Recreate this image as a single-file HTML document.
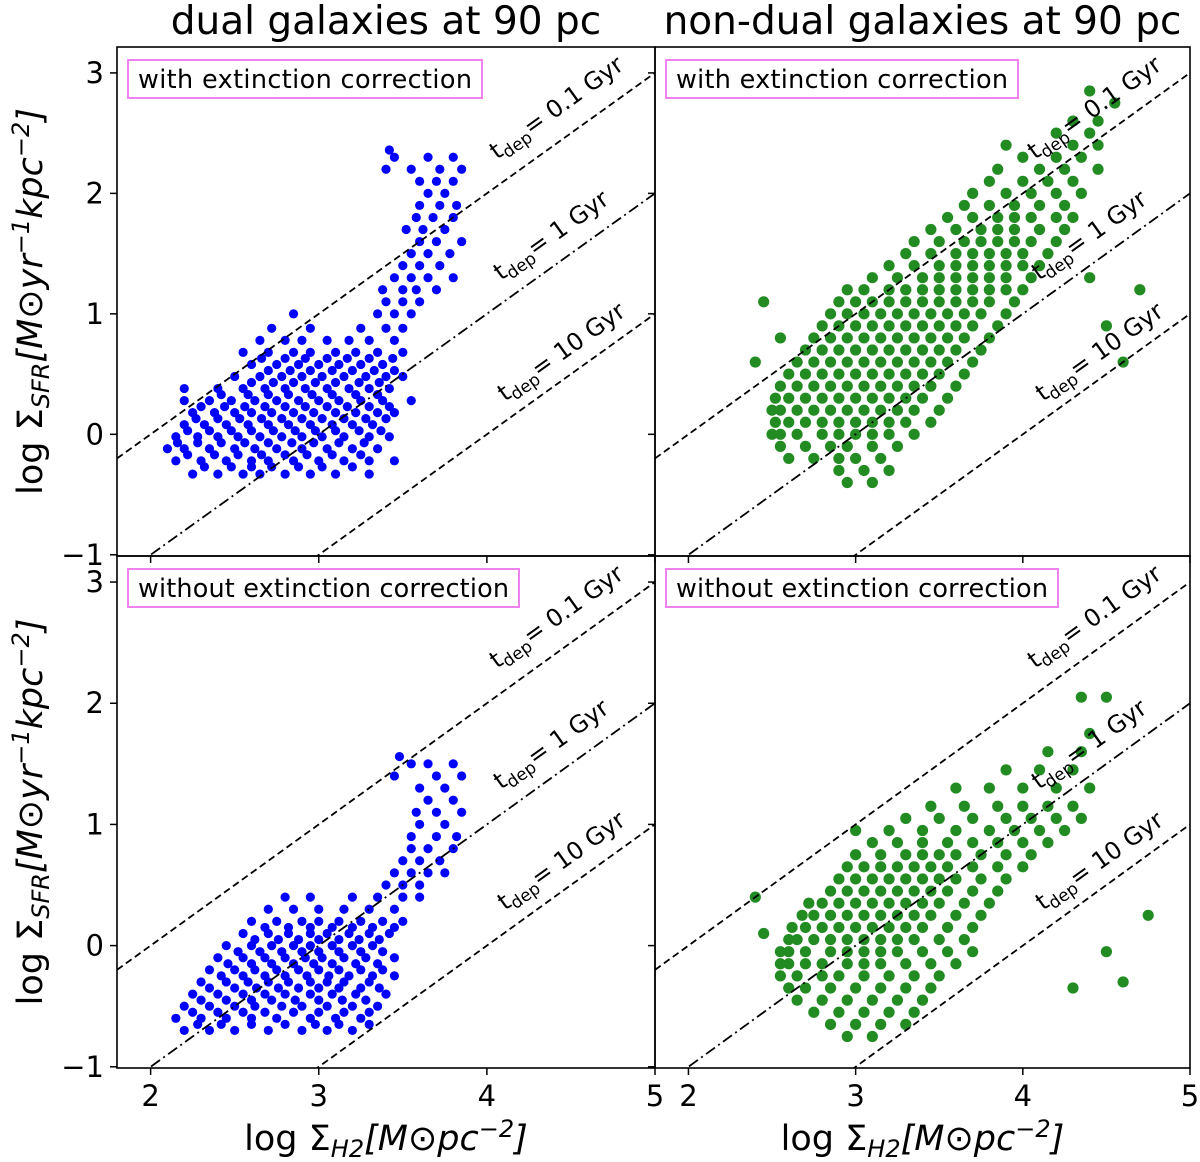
<!DOCTYPE html>
<html><head><meta charset="utf-8"><style>
html,body{margin:0;padding:0;background:#fff}
svg{display:block;font-family:"DejaVu Sans","Liberation Sans",sans-serif}
</style></head><body>
<svg id="chart" width="1200" height="1162" viewBox="0 0 1200 1162" xmlns="http://www.w3.org/2000/svg">
<g id="layer"></g>
</svg>
<script>
// data rows: [y, [x values...]]
const dualExtRows = [
[-0.33,[2.25,2.4,2.55,2.65,2.8,2.95,3.1,3.3]],
[-0.27,[2.32,2.48,2.6,2.72,2.88,3.02,3.2]],
[-0.22,[2.15,2.3,2.45,2.6,2.7,2.85,3.0,3.15,3.3,3.45]],
[-0.17,[2.22,2.38,2.52,2.66,2.8,2.93,3.08,3.25]],
[-0.12,[2.1,2.2,2.35,2.5,2.62,2.75,2.9,3.05,3.2,3.35]],
[-0.07,[2.16,2.28,2.42,2.56,2.7,2.84,2.97,3.12,3.27]],
[-0.02,[2.15,2.28,2.4,2.52,2.65,2.78,2.9,3.02,3.15,3.3,3.42]],
[0.03,[2.22,2.35,2.48,2.6,2.73,2.86,2.98,3.1,3.24,3.37]],
[0.08,[2.2,2.32,2.45,2.58,2.7,2.82,2.95,3.08,3.2,3.32]],
[0.13,[2.27,2.4,2.53,2.66,2.78,2.9,3.02,3.15,3.28,3.4]],
[0.18,[2.25,2.38,2.5,2.6,2.72,2.85,2.97,3.1,3.22,3.35,3.45]],
[0.23,[2.3,2.44,2.56,2.68,2.8,2.92,3.05,3.17,3.3,3.42]],
[0.28,[2.2,2.35,2.48,2.62,2.75,2.88,3.0,3.12,3.25,3.38,3.55]],
[0.33,[2.42,2.58,2.7,2.82,2.96,3.08,3.22,3.35]],
[0.38,[2.2,2.4,2.55,2.68,2.8,2.92,3.05,3.18,3.3,3.42]],
[0.43,[2.6,2.73,2.85,2.98,3.1,3.24,3.36]],
[0.48,[2.5,2.65,2.78,2.9,3.02,3.15,3.28,3.4,3.5]],
[0.53,[2.7,2.83,2.95,3.08,3.2,3.33,3.45]],
[0.58,[2.6,2.75,2.88,3.0,3.12,3.25,3.38]],
[0.63,[2.66,2.8,2.92,3.05,3.17,3.3,3.44]],
[0.68,[2.55,2.7,2.85,2.95,3.1,3.22,3.35,3.5]],
[0.78,[2.65,2.8,2.9,3.05,3.18,3.3,3.45]],
[0.88,[2.72,2.95,3.25,3.4,3.5]],
[1.0,[2.85,3.35,3.45,3.55]],
[1.1,[3.4,3.5,3.6]],
[1.2,[3.38,3.5,3.58,3.7]],
[1.3,[3.45,3.55,3.65,3.8]],
[1.4,[3.5,3.6,3.72]],
[1.5,[3.55,3.65,3.78]],
[1.6,[3.6,3.7,3.85]],
[1.7,[3.52,3.62,3.75]],
[1.8,[3.58,3.68,3.8]],
[1.9,[3.6,3.72,3.82]],
[2.0,[3.65,3.75]],
[2.1,[3.6,3.7,3.8]],
[2.2,[3.4,3.55,3.72,3.85]],
[2.3,[3.45,3.65,3.8]],
[2.36,[3.42]]
];
const dualNoExtRows = [
[-0.7,[2.2,2.35,2.5,2.7,2.9,3.05,3.2]],
[-0.65,[2.28,2.42,2.6,2.8,2.98,3.12,3.3]],
[-0.6,[2.15,2.3,2.45,2.6,2.75,2.95,3.1,3.25]],
[-0.55,[2.25,2.4,2.55,2.68,2.85,3.0,3.15,3.3]],
[-0.5,[2.2,2.35,2.5,2.62,2.78,2.9,3.05,3.2,3.35]],
[-0.45,[2.3,2.45,2.6,2.72,2.86,3.0,3.14,3.28]],
[-0.4,[2.25,2.4,2.55,2.68,2.8,2.95,3.08,3.22,3.4]],
[-0.35,[2.35,2.5,2.63,2.76,2.88,3.0,3.12,3.25,3.36]],
[-0.3,[2.3,2.45,2.58,2.7,2.82,2.95,3.05,3.15,3.3]],
[-0.25,[2.42,2.55,2.68,2.8,2.93,3.06,3.18,3.32,3.45]],
[-0.2,[2.35,2.5,2.62,2.75,2.88,3.0,3.12,3.25,3.38]],
[-0.15,[2.46,2.6,2.72,2.85,2.97,3.08,3.22,3.35]],
[-0.1,[2.4,2.55,2.68,2.8,2.92,3.02,3.15,3.28,3.45]],
[-0.05,[2.52,2.65,2.78,2.9,3.0,3.12,3.25,3.38]],
[0.0,[2.45,2.6,2.72,2.85,2.95,3.08,3.2,3.32]],
[0.05,[2.62,2.76,2.88,3.0,3.12,3.24,3.36]],
[0.1,[2.55,2.7,2.82,2.95,3.05,3.18,3.3,3.42]],
[0.15,[2.68,2.82,2.95,3.08,3.2,3.32,3.45]],
[0.2,[2.6,2.75,2.9,3.0,3.12,3.25,3.38,3.5]],
[0.3,[2.7,2.85,3.0,3.15,3.3,3.45]],
[0.4,[2.8,2.95,3.2,3.35,3.5,3.6]],
[0.5,[3.4,3.5,3.6]],
[0.6,[3.45,3.55,3.65,3.75]],
[0.7,[3.5,3.6,3.72]],
[0.8,[3.55,3.65,3.8]],
[0.9,[3.55,3.7,3.82]],
[1.0,[3.6,3.75]],
[1.1,[3.58,3.7,3.85]],
[1.2,[3.65,3.8]],
[1.3,[3.6,3.75]],
[1.4,[3.45,3.7,3.85]],
[1.5,[3.55,3.65,3.8]],
[1.56,[3.48]]
];
const nonDualExtRows = [
[-0.4,[2.95,3.1]],
[-0.3,[2.9,3.05,3.2]],
[-0.2,[2.6,2.75,2.9,3.0,3.15]],
[-0.1,[2.55,2.7,2.85,2.95,3.1,3.25]],
[0.0,[2.5,2.55,2.65,2.8,2.9,3.0,3.1,3.2,3.35]],
[0.1,[2.52,2.6,2.7,2.8,2.9,3.0,3.1,3.2,3.3,3.45]],
[0.2,[2.5,2.55,2.65,2.75,2.85,2.95,3.05,3.15,3.25,3.35,3.5]],
[0.3,[2.52,2.6,2.7,2.8,2.9,3.0,3.1,3.2,3.3,3.4,3.55]],
[0.4,[2.55,2.65,2.75,2.85,2.95,3.05,3.15,3.25,3.35,3.45,3.6]],
[0.5,[2.6,2.7,2.8,2.9,3.0,3.1,3.2,3.3,3.4,3.5,3.65]],
[0.6,[2.65,2.75,2.85,2.95,3.05,3.15,3.25,3.35,3.45,3.55,3.7]],
[0.7,[2.7,2.8,2.9,3.0,3.1,3.2,3.3,3.4,3.5,3.6,3.75]],
[0.8,[2.75,2.85,2.95,3.05,3.15,3.25,3.35,3.45,3.55,3.65,3.8]],
[0.9,[2.8,2.9,3.0,3.1,3.2,3.3,3.4,3.5,3.6,3.7,3.85]],
[1.0,[2.85,2.95,3.05,3.15,3.25,3.35,3.45,3.55,3.65,3.75,3.9]],
[1.1,[2.9,3.0,3.1,3.2,3.3,3.4,3.5,3.6,3.7,3.8,3.95]],
[1.2,[2.95,3.05,3.2,3.3,3.4,3.5,3.6,3.7,3.8,3.9,4.0]],
[1.3,[3.1,3.25,3.4,3.5,3.6,3.7,3.8,3.9,4.05]],
[1.4,[3.2,3.35,3.5,3.6,3.7,3.8,3.9,4.0,4.1]],
[1.5,[3.3,3.45,3.6,3.7,3.8,3.9,4.0,4.15]],
[1.6,[3.35,3.5,3.65,3.75,3.85,3.95,4.05,4.2]],
[1.7,[3.45,3.6,3.75,3.85,3.95,4.1,4.25]],
[1.8,[3.55,3.7,3.85,3.95,4.05,4.2,4.3]],
[1.9,[3.65,3.8,3.95,4.1,4.25]],
[2.0,[3.7,3.9,4.05,4.2,4.35]],
[2.1,[3.8,4.0,4.15,4.3]],
[2.2,[3.85,4.1,4.25,4.45]],
[2.3,[4.0,4.2,4.35]],
[2.4,[3.9,4.3,4.45]],
[2.5,[4.2,4.4]],
[2.6,[4.3,4.45]],
[2.75,[4.55]],
[2.85,[4.4]],
[1.1,[2.45]],[0.8,[2.55]],[1.2,[4.7]],[0.9,[4.5]],[0.6,[4.6]],[1.3,[4.4]],[0.6,[2.4]]
];
const nonDualNoExtRows = [
[-0.75,[2.95,3.1]],
[-0.65,[2.85,3.0,3.15,3.3]],
[-0.55,[2.75,2.9,3.05,3.2,3.35]],
[-0.45,[2.65,2.8,2.95,3.1,3.25,3.4]],
[-0.35,[2.6,2.7,2.85,3.0,3.15,3.3,3.45]],
[-0.25,[2.55,2.65,2.8,2.9,3.05,3.2,3.35,3.5]],
[-0.15,[2.55,2.6,2.7,2.8,2.95,3.05,3.15,3.3,3.45,3.6]],
[-0.05,[2.55,2.6,2.7,2.85,2.95,3.05,3.15,3.25,3.4,3.55,3.7]],
[0.05,[2.6,2.65,2.75,2.85,2.95,3.05,3.15,3.25,3.35,3.5,3.65]],
[0.15,[2.62,2.7,2.8,2.9,3.0,3.1,3.2,3.3,3.4,3.55,3.7]],
[0.25,[2.68,2.75,2.85,2.95,3.05,3.15,3.25,3.35,3.45,3.6,3.75]],
[0.35,[2.72,2.8,2.9,3.0,3.1,3.2,3.3,3.4,3.5,3.65,3.8]],
[0.45,[2.85,2.95,3.05,3.15,3.25,3.35,3.45,3.55,3.7,3.85]],
[0.55,[2.9,3.0,3.1,3.2,3.3,3.4,3.5,3.6,3.75,3.9]],
[0.65,[2.95,3.05,3.15,3.25,3.35,3.45,3.55,3.7,3.85,4.0]],
[0.75,[3.0,3.15,3.3,3.4,3.5,3.6,3.75,3.9,4.05]],
[0.85,[3.1,3.25,3.4,3.55,3.7,3.85,4.0,4.15]],
[0.95,[3.0,3.2,3.4,3.6,3.8,3.95,4.1,4.25]],
[1.05,[3.3,3.5,3.7,3.9,4.05,4.2,4.35]],
[1.15,[3.45,3.65,3.85,4.0,4.15,4.3]],
[1.3,[3.6,3.8,4.0,4.2,4.4]],
[1.45,[3.9,4.1,4.3]],
[1.6,[4.15,4.35]],
[1.75,[4.4]],
[2.05,[4.35,4.5]],
[0.25,[4.75]],[-0.05,[4.5]],[-0.3,[4.6]],[-0.35,[4.3]],[0.4,[2.4]],[0.1,[2.45]]
];
const xTicks = [2,3,4,5];
const yTicks = [-1,0,1,2,3];
const tdepLogYr = [8,9,10];
const tdepLabels = ["0.1","1","10"];

const NS="http://www.w3.org/2000/svg";
const layer=document.getElementById('layer');
function mk(tag,attrs,parent){const e=document.createElementNS(NS,tag);for(const k in attrs)e.setAttribute(k,attrs[k]);(parent||layer).appendChild(e);return e;}

const panels=[
 {x0:117,x1:655,y0:47,y1:556,rows:dualExtRows,color:"#0000ff",r:4.6,legend:"with extinction correction",lw:354,name:"dual-extinction-corrected"},
 {x0:655,x1:1190,y0:47,y1:556,rows:nonDualExtRows,color:"#228b22",r:5.6,legend:"with extinction correction",lw:352,name:"non-dual-extinction-corrected"},
 {x0:117,x1:655,y0:556,y1:1068,rows:dualNoExtRows,color:"#0000ff",r:4.6,legend:"without extinction correction",lw:391,name:"dual-no-extinction"},
 {x0:655,x1:1190,y0:556,y1:1068,rows:nonDualNoExtRows,color:"#228b22",r:5.6,legend:"without extinction correction",lw:392,name:"non-dual-no-extinction"}
];
const XMIN=1.8,XMAX=5,YMIN=-1.01,YMAX=3.215;

panels.forEach((p,pi)=>{
  const sx=v=>p.x0+(v-XMIN)/(XMAX-XMIN)*(p.x1-p.x0);
  const sy=v=>p.y1-(v-YMIN)/(YMAX-YMIN)*(p.y1-p.y0);
  const g=mk('g',{});
  
  
  const cid='clip'+pi;
  const cp=mk('clipPath',{id:cid},g);mk('rect',{x:p.x0,y:p.y0,width:p.x1-p.x0,height:p.y1-p.y0},cp);
  const pts=mk('g',{'clip-path':`url(#${cid})`},g);
  
  
  p.rows.forEach(r=>{r[1].forEach(x=>{
    const c=mk('circle',{cx:sx(x),cy:sy(r[0]),r:p.r,fill:p.color},pts);
    
    
  });});
  tdepLogYr.forEach((t,i)=>{
    const off=6-t;
    const ln=mk('line',{x1:sx(XMIN),y1:sy(XMIN+off),x2:sx(XMAX),y2:sy(XMAX+off),stroke:"#000","stroke-width":1.8,
      "stroke-dasharray":i==1?"11,4,2,4":"7,4","clip-path":`url(#${cid})`},g);
    
    
    const tx=p.x0+380+i*4, ty=p.y0+113+i*121;
    const t1=mk('text',{x:tx,y:ty,"font-size":24,transform:`rotate(-35.6 ${tx} ${ty})`,fill:"#000"},g);
    
    
    t1.innerHTML=`t<tspan font-size="17" dy="5">dep</tspan><tspan dy="-5">= ${tdepLabels[i]} Gyr</tspan>`;
  });
  const fr=mk('rect',{x:p.x0,y:p.y0,width:p.x1-p.x0,height:p.y1-p.y0,fill:"none",stroke:"#000","stroke-width":1.6},g);
  
  
  const lb=mk('rect',{x:p.x0+11,y:p.y0+13,width:p.lw,height:38,fill:"#fff",stroke:"#ee82ee","stroke-width":2},g);
  
  
  const lt=mk('text',{x:p.x0+21,y:p.y0+41,"font-size":25.5,fill:"#000",textLength:p.lw-20},g);
  
  
  lt.textContent=p.legend;
  yTicks.forEach(v=>{
    const y=sy(v);
    if(y<p.y0-1||y>p.y1+1)return;
    const tk=mk('line',{x1:p.x0-7,y1:y,x2:p.x0,y2:y,stroke:"#000","stroke-width":1.5},g);
    
    
    if(pi%2==0){
      const tl=mk('text',{x:p.x0-13,y:y+10,"font-size":29,"text-anchor":"end",fill:"#000"},g);
      
      
      tl.textContent=v<0?"\u2212"+Math.abs(v):String(v);
    }
  });
  xTicks.forEach(v=>{
    const x=sx(v);
    const tk=mk('line',{x1:x,y1:p.y1,x2:x,y2:p.y1+7,stroke:"#000","stroke-width":1.5},g);
    
    
    if(pi>=2){
      const tl=mk('text',{x:x,y:p.y1+38,"font-size":29,"text-anchor":"middle",fill:"#000"},g);
      
      
      tl.textContent=String(v);
    }
  });
  if(pi<2){
    const tt=mk('text',{x:(p.x0+p.x1)/2,y:34,"font-size":39,"text-anchor":"middle",fill:"#000"},g);
    
    
    tt.textContent=pi==0?"dual galaxies at 90 pc":"non-dual galaxies at 90 pc";
  } else {
    const xl=mk('text',{x:(p.x0+p.x1)/2,y:1150,"font-size":35,"text-anchor":"middle",fill:"#000"},g);
    
    
    xl.innerHTML='log Σ<tspan font-size="24" dy="7" font-style="italic">H2</tspan><tspan dy="-7" font-style="italic">[M</tspan><tspan>⊙</tspan><tspan font-style="italic">pc</tspan><tspan font-size="24" dy="-13" font-style="italic">−2</tspan><tspan dy="13" font-style="italic">]</tspan>';
  }
  if(pi%2==0){
    const cy=(p.y0+p.y1)/2;
    const yl=mk('text',{x:42,y:cy,"font-size":35,"text-anchor":"middle",fill:"#000",transform:`rotate(-90 42 ${cy})`},g);
    
    
    yl.innerHTML='log Σ<tspan font-size="24" dy="7" font-style="italic">SFR</tspan><tspan dy="-7" font-style="italic">[M</tspan><tspan>⊙</tspan><tspan font-style="italic">yr</tspan><tspan font-size="24" dy="-13" font-style="italic">−1</tspan><tspan dy="13" font-style="italic">kpc</tspan><tspan font-size="24" dy="-13" font-style="italic">−2</tspan><tspan dy="13" font-style="italic">]</tspan>';
  }
});
</script>
</body></html>
